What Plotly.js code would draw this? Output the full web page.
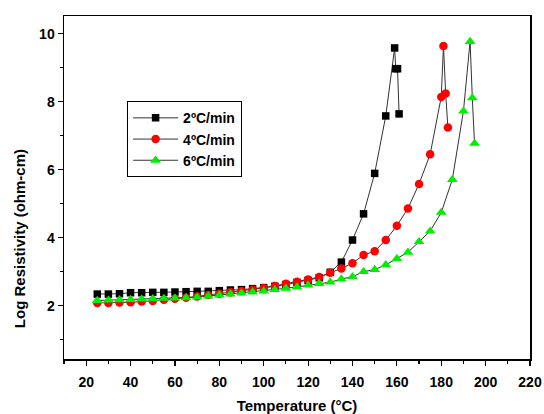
<!DOCTYPE html>
<html>
<head>
<meta charset="utf-8">
<script src="https://cdn.plot.ly/plotly-3.0.1.min.js"></script>
<style>html,body{margin:0;padding:0;background:#fff;}#chart{width:544px;height:414px;}</style>
</head>
<body>
<div id="chart"></div>
<script>
const seriesNames = ["2ºC/min", "4ºC/min", "6ºC/min"];

const temp2 = [25,30,35,40,45,50,55,60,65,70,75,80,85,90,95,100,105,110,115,120,125,130,135,140,145,150,155,159,159.5,160.3,161];
const res2  = [2.34,2.34,2.35,2.38,2.38,2.39,2.39,2.40,2.41,2.42,2.42,2.44,2.46,2.47,2.50,2.53,2.57,2.62,2.68,2.74,2.82,2.98,3.28,3.93,4.70,5.89,7.58,9.58,8.97,8.97,7.64];

const temp4 = [25,30,35,40,45,50,55,60,65,70,75,80,85,90,95,100,105,110,115,120,125,130,135,140,145,150,155,160,165,170,175,180,181,182,183];
const res4  = [2.08,2.08,2.09,2.10,2.12,2.14,2.17,2.20,2.23,2.27,2.31,2.35,2.39,2.43,2.47,2.52,2.58,2.64,2.70,2.77,2.84,2.97,3.09,3.25,3.49,3.60,3.93,4.35,4.86,5.58,6.45,8.14,9.64,8.24,7.24];

const temp6 = [25,30,35,40,45,50,55,60,65,70,75,80,85,90,95,100,105,110,115,120,125,130,135,140,145,150,155,160,165,170,175,180,185,190,193,194,195];
const res6  = [2.15,2.16,2.17,2.18,2.19,2.20,2.21,2.22,2.23,2.25,2.28,2.31,2.34,2.37,2.40,2.43,2.47,2.51,2.55,2.60,2.65,2.69,2.78,2.85,3.00,3.06,3.20,3.38,3.57,3.88,4.19,4.74,5.71,7.72,9.77,8.11,6.77];

const xTicks = [20,40,60,80,100,120,140,160,180,200,220];
const yTicks = [2,4,6,8,10];

const lineStyle = {color:'#333', width:1};
const traces = [
  {x:temp2, y:res2, name:seriesNames[0], mode:'lines+markers', line:lineStyle,
   marker:{symbol:'square', size:7.5, color:'#000'}},
  {x:temp4, y:res4, name:seriesNames[1], mode:'lines+markers', line:lineStyle,
   marker:{symbol:'circle', size:8.5, color:'#ff0000'}},
  {x:temp6, y:res6, name:seriesNames[2], mode:'lines+markers', line:lineStyle,
   marker:{symbol:'triangle-up', size:9.5, color:'#00ee00'}}
];

const fam = 'Liberation Sans, Arial, sans-serif';
const axisFont = {family:fam, size:14, color:'#000', weight:'bold'};
const layout = {
  width:544, height:414,
  margin:{l:64, r:14, t:16, b:55},
  paper_bgcolor:'#fff', plot_bgcolor:'#fff',
  showlegend:true,
  legend:{x:0.135, y:0.752, xanchor:'left', yanchor:'top', bgcolor:'#fff',
    bordercolor:'#000', borderwidth:1.2,
    font:{family:fam, size:14, color:'#000', weight:'bold'},
    tracegroupgap:0, itemwidth:45},
  xaxis:{range:[10,220], tickvals:xTicks, ticktext:xTicks.map(String),
    ticks:'outside', ticklen:5, tickwidth:1.2, tickcolor:'#000', ticklabelstandoff:5,
    minor:{dtick:10, tick0:10, ticks:'outside', ticklen:3, tickwidth:1.2, tickcolor:'#000'},
    showline:true, linecolor:'#000', linewidth:1.5, mirror:true,
    showgrid:false, zeroline:false, tickfont:axisFont,
    title:{text:'Temperature (°C)', font:{family:fam, size:15, color:'#000', weight:'bold'}, standoff:14}},
  yaxis:{range:[0.43,10.52], tickvals:yTicks, ticktext:yTicks.map(String),
    ticks:'outside', ticklen:5, tickwidth:1.2, tickcolor:'#000',
    minor:{dtick:2, tick0:1, ticks:'outside', ticklen:3, tickwidth:1.2, tickcolor:'#000'},
    showline:true, linecolor:'#000', linewidth:1.5, mirror:true,
    showgrid:false, zeroline:false, tickfont:axisFont},
  annotations:[{text:'Log Resistivity (ohm-cm)', textangle:-90, xref:'paper', yref:'paper',
    x:-0.094, y:0.35, xanchor:'center', yanchor:'middle', showarrow:false,
    font:{family:fam, size:15, color:'#000', weight:'bold'}}]
};

Plotly.newPlot('chart', traces, layout, {displayModeBar:false, staticPlot:true});
</script>
</body>
</html>
